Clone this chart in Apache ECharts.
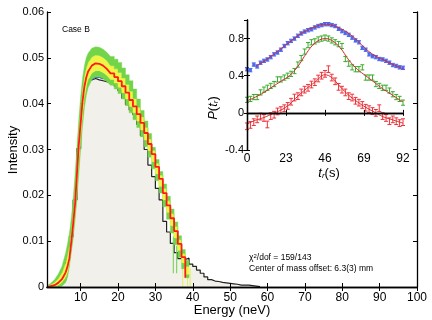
<!DOCTYPE html>
<html>
<head>
<meta charset="utf-8">
<script src="https://cdn.jsdelivr.net/npm/echarts@6/dist/echarts.min.js"></script>
<style>
  html, body { margin: 0; padding: 0; background: #fff; }
  #chart { width: 432px; height: 320px; }
</style>
</head>
<body>
<div id="chart"></div>
<script>
// ---- main panel: energy spectrum ----
// smooth rising edge of the model band (neV)
const riseE     = [1, 2, 3, 4, 5, 6, 6.5, 7, 7.5, 8, 8.5, 9, 9.5, 10, 10.5, 11, 11.5, 12, 13, 14, 15, 16, 17];
const riseRed   = [0, 0.0002, 0.0004, 0.0009, 0.0017, 0.0032, 0.0045, 0.0063, 0.0098, 0.0138, 0.018, 0.0245, 0.031, 0.0357, 0.0405, 0.0437, 0.0457, 0.047, 0.0483, 0.0488, 0.0487, 0.0483, 0.0476];
const riseHi    = [0.0003, 0.0008, 0.0016, 0.0028, 0.0045, 0.0075, 0.0095, 0.0118, 0.015, 0.0192, 0.0245, 0.0305, 0.0365, 0.0415, 0.0455, 0.0482, 0.05, 0.051, 0.0521, 0.0524, 0.0523, 0.0519, 0.0512];
const riseYelHi = [0.0002, 0.0005, 0.001, 0.0018, 0.0031, 0.0053, 0.007, 0.009, 0.0124, 0.0165, 0.0212, 0.0275, 0.0337, 0.0386, 0.043, 0.046, 0.0478, 0.049, 0.0502, 0.0506, 0.0505, 0.0501, 0.0494];
const riseYelLo = [0, 0.0001, 0.0002, 0.0004, 0.001, 0.0021, 0.0033, 0.0054, 0.0086, 0.0121, 0.0162, 0.0217, 0.0277, 0.0328, 0.0377, 0.0413, 0.0437, 0.0452, 0.0467, 0.0472, 0.0472, 0.0468, 0.0462];
const riseLo    = [0, 0, 0, 0, 0.0002, 0.001, 0.0022, 0.0045, 0.0075, 0.0105, 0.0145, 0.019, 0.0245, 0.03, 0.035, 0.039, 0.0418, 0.0435, 0.0452, 0.0457, 0.0457, 0.0454, 0.0448];

// stepped falling edge, 1 neV bins starting at binStart
const binStart  = 18;
const binRed    = [0.0466, 0.0458, 0.0449, 0.0438, 0.0424, 0.0408, 0.0394, 0.0377, 0.0358, 0.0336, 0.0312, 0.029, 0.0262, 0.0236, 0.0205, 0.0178, 0.015, 0.0122, 0.0094, 0.0065];
const redEnd    = [38, 0.002];
const binHi     = [0.0503, 0.0497, 0.049, 0.0478, 0.0463, 0.045, 0.0432, 0.041, 0.0385, 0.0362, 0.0335, 0.0305, 0.0278, 0.0252, 0.0225, 0.0198, 0.017, 0.0142, 0.0112, 0.0082, 0.0058];
const binYelHi  = [0.0483, 0.0476, 0.0468, 0.0456, 0.0442, 0.0427, 0.0411, 0.0392, 0.0371, 0.0348, 0.0323, 0.0298, 0.027, 0.0244, 0.0215, 0.0188, 0.016, 0.0132, 0.0103, 0.0073, 0.0045];
const binYelLo  = [0.0453, 0.0445, 0.0436, 0.0424, 0.041, 0.0394, 0.038, 0.0362, 0.0343, 0.0321, 0.0298, 0.0274, 0.0247, 0.022, 0.019, 0.0163, 0.0134, 0.0107, 0.008, 0.0053, 0.0028];
const binLo     = [0.044, 0.0432, 0.0422, 0.041, 0.0396, 0.038, 0.0365, 0.0348, 0.0328, 0.0306, 0.0283, 0.0258, 0.0232, 0.0205, 0.0175, 0.0148, 0.0118, 0.0092, 0.0065, 0.004, 0.002];
// thin stray traces below the band end: [energy, top, bottom]
const greenSpikes  = [[34.8, 0.011, 0.003], [35.7, 0.009, 0.003]];
const yellowSpikes = [[37.3, 0.005, 0], [38.6, 0.004, 0], [39.3, 0.004, 0]];

// measured histogram, 1 neV bins from 1 neV
const histStart = 1;
const histVals  = [0, 0, 0.0002, 0.0006, 0.0015, 0.006, 0.011, 0.019, 0.0302, 0.040, 0.0442, 0.0452, 0.0455, 0.0452, 0.045, 0.0448, 0.0446, 0.0443,
  0.0438, 0.0428, 0.0412, 0.0398, 0.0386, 0.0376, 0.0355, 0.033, 0.03, 0.0266, 0.0241, 0.0215, 0.019, 0.0143, 0.012, 0.0095, 0.0075, 0.0062, 0.006,
  0.0063, 0.005, 0.0045, 0.0037, 0.003, 0.0022, 0.0016, 0.0013, 0.0012, 0.001, 0.0009, 0.0008, 0.0007, 0.0006, 0.0004, 0.0004, 0.0004, 0.0003, 0.0002, 0.0001];

const xTicks = [10, 20, 30, 40, 50, 60, 70, 80, 90, 100];

// ---- inset: P(t_r) ----
const tPts   = [0, 2, 4, 6, 8, 10, 12, 14, 16, 18, 20, 22, 24, 26, 28, 30, 32, 34, 36, 38, 40, 42, 44, 46, 48, 50, 52, 54, 56, 58, 60, 62, 64, 66, 68, 70, 72, 74, 76, 78, 80, 82, 84, 86, 88, 90, 92];
const blueP  = [0.47, 0.46, 0.52, 0.50, 0.54, 0.56, 0.575, 0.60, 0.63, 0.65, 0.68, 0.72, 0.75, 0.775, 0.80, 0.83, 0.855, 0.875, 0.89, 0.90, 0.92, 0.935, 0.945, 0.955, 0.955, 0.945, 0.935, 0.905, 0.88, 0.86, 0.84, 0.81, 0.78, 0.76, 0.70, 0.68, 0.63, 0.61, 0.60, 0.58, 0.575, 0.56, 0.54, 0.515, 0.505, 0.49, 0.485];
const greenP = [0.14, 0.15, 0.17, 0.17, 0.22, 0.25, 0.27, 0.29, 0.31, 0.36, 0.36, 0.38, 0.40, 0.42, 0.45, 0.52, 0.59, 0.66, 0.73, 0.76, 0.77, 0.79, 0.80, 0.81, 0.80, 0.78, 0.76, 0.74, 0.72, 0.58, 0.53, 0.49, 0.47, 0.47, 0.49, 0.38, 0.38, 0.38, 0.31, 0.29, 0.27, 0.27, 0.24, 0.20, 0.17, 0.15, 0.11];
const redP   = [-0.145, -0.13, -0.10, -0.07, -0.04, -0.055, -0.125, -0.035, -0.02, 0.015, 0.03, 0.05, 0.075, 0.12, 0.165, 0.18, 0.22, 0.25, 0.27, 0.305, 0.33, 0.37, 0.40, 0.42, 0.47, 0.38, 0.34, 0.28, 0.25, 0.22, 0.18, 0.165, 0.13, 0.11, 0.085, 0.055, 0.04, 0.02, 0, 0.05, -0.035, -0.055, -0.09, -0.07, -0.09, -0.11, -0.10];
const blueErr = 0.018, greenErr = 0.028, redErr = 0.036;

const fitT     = [0, 5, 10, 15, 20, 25, 30, 35, 40, 46, 50, 55, 60, 65, 70, 75, 80, 85, 90, 92];
const blueFit  = [null, 0.50, 0.555, 0.62, 0.69, 0.76, 0.83, 0.885, 0.925, 0.955, 0.945, 0.91, 0.855, 0.78, 0.69, 0.62, 0.575, 0.53, 0.49, 0.475];
const greenFit = [0.13, 0.17, 0.22, 0.28, 0.34, 0.40, 0.50, 0.64, 0.75, 0.80, 0.78, 0.70, 0.57, 0.47, 0.40, 0.33, 0.26, 0.20, 0.14, 0.12];
const redFit   = [-0.12, -0.08, -0.05, -0.01, 0.03, 0.09, 0.18, 0.26, 0.33, 0.41, 0.38, 0.28, 0.19, 0.12, 0.06, 0.01, -0.04, -0.07, -0.10, -0.11];

// build point lists: smooth part, then stairs
function bandPoints(rise, bins) {
  const pts = riseE.map((e, i) => [e, rise[i]]);
  bins.forEach((v, j) => { pts.push([binStart + j, v]); pts.push([binStart + j + 1, v]); });
  return pts;
}
const lo = bandPoints(riseLo, binLo);
const yl = bandPoints(riseYelLo, binYelLo);
const yu = bandPoints(riseYelHi, binYelHi);
const hi = bandPoints(riseHi, binHi);

const redPts = riseE.map((e, i) => [e, riseRed[i]]);
binRed.forEach((v, j) => { redPts.push([binStart + j, v]); redPts.push([binStart + j + 1, v]); });
redPts.push(redEnd);

const histPts = [];
histVals.forEach((v, j) => { histPts.push([histStart + j, v]); histPts.push([histStart + j + 1, v]); });

const gray = '#f2f0eb';
const green = '#72d449';
const yellow = '#eff545';
const txt = { color: '#000', fontFamily: 'Liberation Sans' };

// band layers: [lower edge, upper edge, colour]
const layers = [[lo, yl, green], [yl, yu, yellow], [yu, hi, green]];

function bandItem(params, api) {
  const layer = layers[api.value(0)];
  const up = layer[1].map(p => api.coord(p));
  const dn = layer[0].map(p => api.coord(p)).reverse();
  return { type: 'polygon', shape: { points: up.concat(dn) }, style: { fill: layer[2], stroke: layer[2], lineWidth: 0.4 } };
}

function spikeItem(color) {
  return function (params, api) {
    const a = api.coord([api.value(0), api.value(1)]);
    const b = api.coord([api.value(0), api.value(2)]);
    return { type: 'line', shape: { x1: a[0], y1: a[1], x2: b[0], y2: b[1] }, style: { stroke: color, lineWidth: 1 } };
  };
}

function errorBars(color, withBox) {
  return function (params, api) {
    const t = api.value(0), v = api.value(1), e = api.value(2);
    const top = api.coord([t, v + e]);
    const bot = api.coord([t, v - e]);
    const c = api.coord([t, v]);
    const w = 2;
    const st = { stroke: color, lineWidth: 1 };
    const kids = [
      { type: 'line', shape: { x1: top[0], y1: top[1], x2: bot[0], y2: bot[1] }, style: st },
      { type: 'line', shape: { x1: top[0] - w, y1: top[1], x2: top[0] + w, y2: top[1] }, style: st },
      { type: 'line', shape: { x1: bot[0] - w, y1: bot[1], x2: bot[0] + w, y2: bot[1] }, style: st }
    ];
    if (withBox) {
      kids.push({ type: 'rect', shape: { x: c[0] - 1.5, y: c[1] - 1.5, width: 3, height: 3 }, style: { fill: color } });
    }
    return { type: 'group', children: kids };
  };
}

function insetPoints(vals, err) {
  return tPts.map((t, i) => [t, vals[i], err]);
}

const chart = echarts.init(document.getElementById('chart'));

const axisBase = {
  axisLine: { lineStyle: { color: '#000', width: 1.3 } },
  splitLine: { show: false },
  z: 10
};

chart.setOption({
  animation: false,
  grid: [
    { left: 47, top: 12, right: 15, bottom: 33 },
    { left: 247, top: 20, width: 156, height: 130 }
  ],
  xAxis: [
    Object.assign({ gridIndex: 0, type: 'value', min: 1, max: 100, position: 'bottom',
      axisTick: { inside: true, length: 4, customValues: xTicks, lineStyle: { color: '#000' } },
      axisLabel: Object.assign({ customValues: xTicks, fontSize: 12, margin: 5 }, txt) }, axisBase),
    Object.assign({ gridIndex: 0, type: 'value', min: 1, max: 100, position: 'top',
      axisTick: { inside: true, length: 4, customValues: xTicks, lineStyle: { color: '#000' } },
      axisLabel: { show: false } }, axisBase),
    Object.assign({ gridIndex: 1, type: 'value', min: 0, max: 92, interval: 23, position: 'bottom',
      axisTick: { inside: true, length: 3, lineStyle: { color: '#000' } },
      axisLabel: Object.assign({ fontSize: 12, margin: 3 }, txt) }, axisBase),
    Object.assign({ gridIndex: 1, type: 'value', min: 0, max: 92, interval: 23, position: 'top',
      axisTick: { inside: true, length: 3, lineStyle: { color: '#000' } },
      axisLabel: { show: false } }, axisBase)
  ],
  yAxis: [
    Object.assign({ gridIndex: 0, type: 'value', min: 0, max: 0.06, interval: 0.01, position: 'left',
      axisTick: { inside: true, length: 4, lineStyle: { color: '#000' } },
      axisLabel: Object.assign({ fontSize: 11, margin: 3 }, txt) }, axisBase),
    Object.assign({ gridIndex: 0, type: 'value', min: 0, max: 0.06, interval: 0.01, position: 'right',
      axisTick: { inside: true, length: 4, lineStyle: { color: '#000' } },
      axisLabel: { show: false } }, axisBase),
    Object.assign({ gridIndex: 1, type: 'value', min: -0.4, max: 1.0, interval: 0.4, position: 'left',
      axisTick: { inside: true, length: 3, lineStyle: { color: '#000' } },
      axisLabel: Object.assign({ fontSize: 11, margin: 3, showMaxLabel: false }, txt) }, axisBase),
    Object.assign({ gridIndex: 1, type: 'value', min: -0.4, max: 1.0, interval: 0.4, position: 'right',
      axisTick: { inside: true, length: 3, lineStyle: { color: '#000' } },
      axisLabel: { show: false } }, axisBase)
  ],
  series: [
    // gray model area under the band peak
    { type: 'line', xAxisIndex: 0, yAxisIndex: 0, data: riseE.map((e, i) => [e, riseLo[i]]),
      symbol: 'none', lineStyle: { width: 0 }, areaStyle: { color: gray, opacity: 1 }, z: 1 },
    // measured histogram
    { type: 'line', xAxisIndex: 0, yAxisIndex: 0, data: histPts, symbol: 'none',
      lineStyle: { color: '#222', width: 1.2 }, areaStyle: { color: gray, opacity: 1 }, z: 1 },
    // stray traces
    { type: 'custom', xAxisIndex: 0, yAxisIndex: 0, data: greenSpikes, renderItem: spikeItem('#6ad24a'), z: 2 },
    { type: 'custom', xAxisIndex: 0, yAxisIndex: 0, data: yellowSpikes, renderItem: spikeItem('#e4ef5a'), z: 2 },
    // uncertainty band
    { type: 'custom', xAxisIndex: 0, yAxisIndex: 0, data: [[0], [1], [2]], renderItem: bandItem, z: 2 },
    // lower edge of the band at the peak
    { type: 'line', xAxisIndex: 0, yAxisIndex: 0, data: riseE.slice(18, 22).map((e, i) => [e, riseLo[i + 18]]),
      symbol: 'none', lineStyle: { color: '#3a58d0', width: 0.8 }, z: 3 },
    // best fit
    { type: 'line', xAxisIndex: 0, yAxisIndex: 0, data: redPts, symbol: 'none',
      lineStyle: { color: '#ff1a1a', width: 1.8 }, z: 3 },

    // inset data
    { type: 'custom', xAxisIndex: 2, yAxisIndex: 2, data: insetPoints(blueP, blueErr),
      renderItem: errorBars('#4a68f0', true), encode: { x: 0, y: 1 }, z: 5 },
    { type: 'custom', xAxisIndex: 2, yAxisIndex: 2, data: insetPoints(greenP, greenErr),
      renderItem: errorBars('#3aab2e', false), encode: { x: 0, y: 1 }, z: 5 },
    { type: 'custom', xAxisIndex: 2, yAxisIndex: 2, data: insetPoints(redP, redErr),
      renderItem: errorBars('#f0323a', false), encode: { x: 0, y: 1 }, z: 5 },
    { type: 'line', xAxisIndex: 2, yAxisIndex: 2, data: fitT.map((t, i) => [t, blueFit[i]]), smooth: 0.4,
      symbol: 'none', lineStyle: { color: '#d82a30', width: 1 }, z: 6 },
    { type: 'line', xAxisIndex: 2, yAxisIndex: 2, data: fitT.map((t, i) => [t, greenFit[i]]), smooth: 0.4,
      symbol: 'none', lineStyle: { color: '#d82a30', width: 1 }, z: 6 },
    { type: 'line', xAxisIndex: 2, yAxisIndex: 2, data: fitT.map((t, i) => [t, redFit[i]]), smooth: 0.4,
      symbol: 'none', lineStyle: { color: '#d82a30', width: 1 }, z: 6 }
  ],
  graphic: [
    { type: 'text', left: 62, top: 25, style: { text: 'Case B', font: '8.5px "Liberation Sans"', fill: '#000' } },
    { type: 'text', x: 13, y: 150, rotation: Math.PI / 2,
      style: { text: 'Intensity', font: '13px "Liberation Sans"', fill: '#000', align: 'center', verticalAlign: 'middle' } },
    { type: 'text', x: 232, y: 310,
      style: { text: 'Energy (neV)', font: '13px "Liberation Sans"', fill: '#000', align: 'center', verticalAlign: 'middle' } },
    { type: 'text', x: 249, y: 258,
      style: { text: '{n|χ}{sup|2}{n|/dof = 159/143}', verticalAlign: 'middle', fill: '#000',
        rich: { n: { fontSize: 8.5, fontFamily: 'Liberation Sans', lineHeight: 10 },
                sup: { fontSize: 6, fontFamily: 'Liberation Sans', verticalAlign: 'top', lineHeight: 6 } } } },
    { type: 'text', x: 249, y: 268.5,
      style: { text: 'Center of mass offset: 6.3(3) mm', font: '8.5px "Liberation Sans"', fill: '#000', verticalAlign: 'middle' } },
    { type: 'text', x: 213, y: 108, rotation: Math.PI / 2,
      style: { text: '{i|P}{n|(}{i|t}{s|r}{n|)}', align: 'center', verticalAlign: 'middle', fill: '#000',
        rich: { i: { fontSize: 13, fontStyle: 'italic', fontFamily: 'Liberation Sans', lineHeight: 14 },
                n: { fontSize: 13, fontFamily: 'Liberation Sans', lineHeight: 14 },
                s: { fontSize: 8, fontStyle: 'italic', fontFamily: 'Liberation Sans', verticalAlign: 'bottom', lineHeight: 8 } } } },
    { type: 'text', x: 329, y: 173,
      style: { text: '{i|t}{s|r}{n|(s)}', align: 'center', verticalAlign: 'middle', fill: '#000',
        rich: { i: { fontSize: 13, fontStyle: 'italic', fontFamily: 'Liberation Sans', lineHeight: 14 },
                n: { fontSize: 13, fontFamily: 'Liberation Sans', lineHeight: 14 },
                s: { fontSize: 8, fontStyle: 'italic', fontFamily: 'Liberation Sans', verticalAlign: 'bottom', lineHeight: 8 } } } }
  ]
});
</script>
</body>
</html>
